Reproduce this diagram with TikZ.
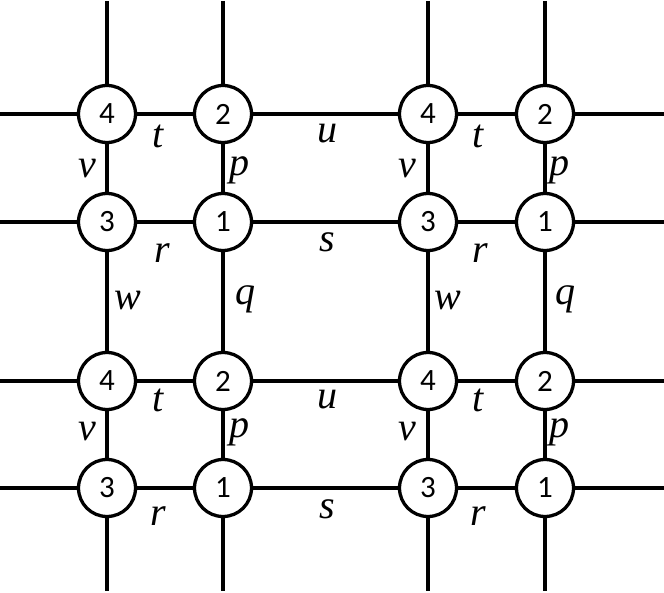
\documentclass[tikz,border=0pt]{standalone}
\usepackage{fontspec}
\setmainfont{Liberation Serif}
\newfontfamily\digitfont{Carlito}
\begin{document}
\begin{tikzpicture}[x=1pt,y=-1pt,
  vert/.style={circle,draw,line width=3.3pt,minimum size=57pt,inner sep=0pt,fill=white,font=\digitfont\fontsize{31}{31}\selectfont},
  edge/.style={line width=3.3pt},
  lab/.style={anchor=base,font=\itshape\fontsize{40}{40}\selectfont,inner sep=0pt}]
\useasboundingbox (0,0) rectangle (664,593);
% edge coordinates
\coordinate (L1) at (0,114); \coordinate (R1) at (664,114);
\coordinate (L2) at (0,222); \coordinate (R2) at (664,222);
\coordinate (L3) at (0,381); \coordinate (R3) at (664,381);
\coordinate (L4) at (0,488); \coordinate (R4) at (664,488);
\coordinate (T1) at (107,1); \coordinate (B1) at (107,591);
\coordinate (T2) at (223,1); \coordinate (B2) at (223,591);
\coordinate (T3) at (428,1); \coordinate (B3) at (428,591);
\coordinate (T4) at (545,1); \coordinate (B4) at (545,591);
% vertices
\node[vert] (n11) at (107,114) {4};
\node[vert] (n12) at (223,114) {2};
\node[vert] (n13) at (428,114) {4};
\node[vert] (n14) at (545,114) {2};
\node[vert] (n21) at (107,222) {3};
\node[vert] (n22) at (223,222) {1};
\node[vert] (n23) at (428,222) {3};
\node[vert] (n24) at (545,222) {1};
\node[vert] (n31) at (107,381) {4};
\node[vert] (n32) at (223,381) {2};
\node[vert] (n33) at (428,381) {4};
\node[vert] (n34) at (545,381) {2};
\node[vert] (n41) at (107,488) {3};
\node[vert] (n42) at (223,488) {1};
\node[vert] (n43) at (428,488) {3};
\node[vert] (n44) at (545,488) {1};
% horizontal edges
\draw[edge] (L1) -- (n11) -- (n12) -- (n13) -- (n14) -- (R1);
\draw[edge] (L2) -- (n21) -- (n22) -- (n23) -- (n24) -- (R2);
\draw[edge] (L3) -- (n31) -- (n32) -- (n33) -- (n34) -- (R3);
\draw[edge] (L4) -- (n41) -- (n42) -- (n43) -- (n44) -- (R4);
% vertical edges
\draw[edge] (T1) -- (n11) -- (n21) -- (n31) -- (n41) -- (B1);
\draw[edge] (T2) -- (n12) -- (n22) -- (n32) -- (n42) -- (B2);
\draw[edge] (T3) -- (n13) -- (n23) -- (n33) -- (n43) -- (B3);
\draw[edge] (T4) -- (n14) -- (n24) -- (n34) -- (n44) -- (B4);
% labels, upper band
\node[lab] (ta1) at (158,148) {t};
\node[lab] (ta2) at (478,148) {t};
\node[lab] (ua) at (327,143) {u};
\node[lab] (va1) at (87,178) {v};
\node[lab] (va2) at (407,178) {v};
\node[lab] (pa1) at (239,176) {p};
\node[lab] (pa2) at (559,176) {p};
\node[lab] (ra1) at (162,263) {r};
\node[lab] (ra2) at (480,263) {r};
\node[lab] (sa) at (327,252) {s};
\node[lab] (wa1) at (128,310) {w};
\node[lab] (wa2) at (448,310) {w};
\node[lab] (qa1) at (245,305) {q};
\node[lab] (qa2) at (565,305) {q};
% labels, lower band
\node[lab] (tb1) at (158,412) {t};
\node[lab] (tb2) at (478,412) {t};
\node[lab] (ub) at (327,409) {u};
\node[lab] (vb1) at (87,440) {v};
\node[lab] (vb2) at (407,440) {v};
\node[lab] (pb1) at (239,437) {p};
\node[lab] (pb2) at (559,437) {p};
\node[lab] (rb1) at (158,525) {r};
\node[lab] (rb2) at (478,525) {r};
\node[lab] (sb) at (327,518) {s};
\end{tikzpicture}
\end{document}
